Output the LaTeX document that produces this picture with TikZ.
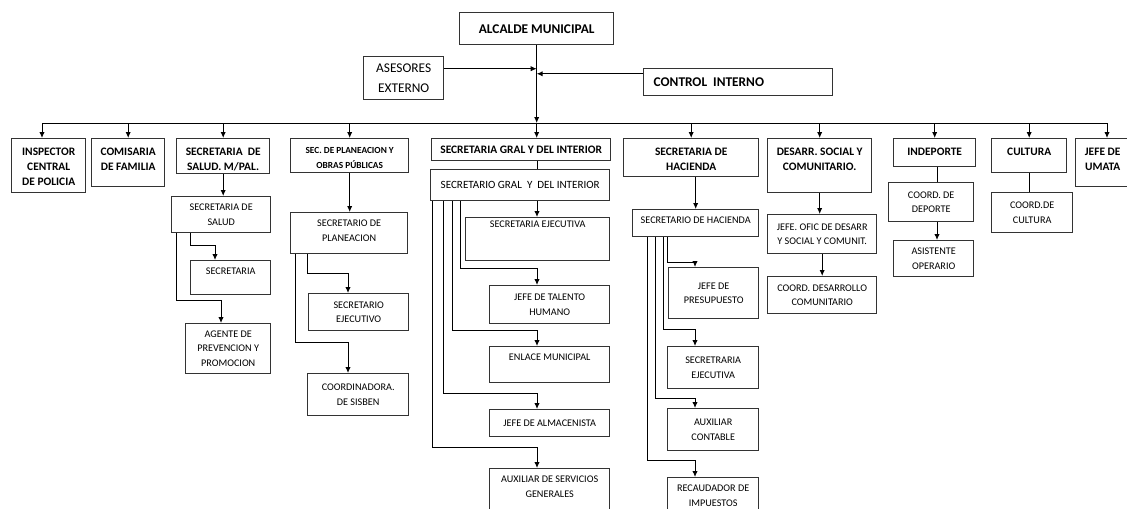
\documentclass[tikz,border=0pt]{standalone}
\usepackage{fontspec}
\setmainfont{Carlito}
\usepackage{tikz}
\usetikzlibrary{arrows.meta}

\newlength{\px}
\setlength{\px}{0.02cm}
\newlength{\toppad}
\setlength{\toppad}{4pt}
% box contents: [pos]{width}{height}{text}, sizes in px
\newcommand{\cell}[4][t]{\parbox[c][#3\px][#1]{#2\px}{\centering\if t#1\vspace*{\toppad}\fi #4}}

\begin{document}
\begin{tikzpicture}[
  x=0.02cm, y=-0.02cm,
  box/.style={draw=black!80, line width=0.8pt, anchor=north west, inner sep=0pt},
  head/.style={box, font=\fontsize{7.6}{11.3}\selectfont\bfseries},
  dept/.style={box, font=\fontsize{6.5}{8.7}\selectfont\bfseries,
    execute at begin node={\setlength{\toppad}{5.2pt}}},
  unit/.style={box, font=\fontsize{5.8}{8.2}\selectfont,
    execute at begin node={\setlength{\toppad}{4.3pt}}},
  link/.style={line width=0.55pt, -{Latex[length=3.4pt,width=3pt]}},
  plain/.style={line width=0.55pt},
]
  \useasboundingbox (0,0) rectangle (1127,508);

  % Top
  \node[head] (alcalde) at (459,12) {\cell[c]{154}{32}{ALCALDE MUNICIPAL}};
  \node[head, font=\fontsize{7.6}{11.3}\selectfont] (asesores) at (363,56) {\cell[c]{80}{43}{ASESORES\\EXTERNO}};
  \node[head] (control) at (643,68) {\parbox[c][27\px][c]{189\px}{\hspace*{10\px}CONTROL\ \ INTERNO}};

  % Departments
  \node[dept] (inspector) at (11,138) {\cell{74}{54}{INSPECTOR\\CENTRAL\\DE POLICIA}};
  \node[dept] (comisaria) at (91,138) {\cell{73}{48}{COMISARIA\\DE FAMILIA}};
  \node[dept] (saludmp) at (176,138) {\cell{93}{35}{SECRETARIA\ \ DE\\SALUD. M/PAL.}};
  \node[dept, font=\fontsize{5.3}{8}\selectfont\bfseries] (planeacion) at (290,138) {\cell{118}{34}{SEC. DE PLANEACION Y\\OBRAS PÚBLICAS}};
  \node[dept] (gral) at (431,138) {\cell[c]{179}{22}{SECRETARIA GRAL Y DEL INTERIOR}};
  \node[dept] (hacienda) at (623,138) {\cell{135}{38}{SECRETARIA DE\\HACIENDA}};
  \node[dept] (desarr) at (767,138) {\cell{104}{54}{DESARR. SOCIAL Y\\COMUNITARIO.}};
  \node[dept] (indeporte) at (893,138) {\cell{82}{28}{INDEPORTE}};
  \node[dept] (cultura) at (991,138) {\cell{75}{34}{CULTURA}};
  \node[dept] (umata) at (1075,138) {\cell{54}{48}{JEFE DE\\UMATA}};

  % Salud and planeacion
  \node[unit] (secsalud) at (171,196) {\cell[c]{99}{36}{SECRETARIA DE\\SALUD}};
  \node[unit] (secretaria) at (190,260) {\cell{80}{34}{SECRETARIA}};
  \node[unit] (agente) at (185,323) {\cell[c]{85}{50}{AGENTE DE\\PREVENCION Y\\PROMOCION}};
  \node[unit] (secplan) at (290,212) {\cell{117}{41}{SECRETARIO DE\\PLANEACION}};
  \node[unit] (secejec) at (308,293) {\cell[c]{100}{37}{SECRETARIO\\EJECUTIVO}};
  \node[unit] (sisben) at (307,373) {\cell[c]{101}{42}{COORDINADORA.\\DE SISBEN}};

  % Secretaria general
  \node[unit, font=\fontsize{6.3}{8.6}\selectfont] (secgral) at (430,169) {\cell[c]{179}{31}{SECRETARIO GRAL\ \ Y\ \ DEL INTERIOR}};
  \node[unit, execute at begin node={\setlength{\toppad}{2pt}}] (secejecutiva) at (465,217) {\cell{144}{43}{SECRETARIA EJECUTIVA}};
  \node[unit] (talento) at (489,285) {\cell[c]{120}{38}{JEFE DE TALENTO\\HUMANO}};
  \node[unit] (enlace) at (489,346) {\cell{120}{36}{ENLACE MUNICIPAL}};
  \node[unit] (almacen) at (489,409) {\cell[c]{120}{27}{JEFE DE ALMACENISTA}};
  \node[unit] (auxserv) at (489,468) {\cell{120}{50}{AUXILIAR DE SERVICIOS\\GENERALES}};

  % Hacienda
  \node[unit] (sechac) at (632,209) {\cell{126}{27}{SECRETARIO DE HACIENDA}};
  \node[unit] (presup) at (668,267) {\cell[c]{90}{51}{JEFE DE\\PRESUPUESTO}};
  \node[unit] (secretraria) at (667,346) {\cell[c]{91}{42}{SECRETRARIA\\EJECUTIVA}};
  \node[unit] (auxiliar) at (667,408) {\cell[c]{91}{42}{AUXILIAR\\CONTABLE}};
  \node[unit] (recaudador) at (667,477) {\cell{91}{40}{RECAUDADOR DE\\IMPUESTOS}};

  % Desarrollo, deporte, cultura
  \node[unit] (jefeofic) at (767,214) {\cell[c]{109}{39}{JEFE. OFIC DE DESARR\\Y SOCIAL Y COMUNIT.}};
  \node[unit] (coorddes) at (767,276) {\cell[c]{109}{37}{COORD. DESARROLLO\\COMUNITARIO}};
  \node[unit] (coorddep) at (888,182) {\cell[c]{85}{39}{COORD. DE\\DEPORTE}};
  \node[unit] (asistente) at (893,240) {\cell[c]{80}{36}{ASISTENTE\\OPERARIO}};
  \node[unit] (coordcul) at (991,192) {\cell[c]{81}{40}{COORD.DE\\CULTURA}};

  % Spine and bus
  \coordinate (busL) at (42,123);
  \coordinate (busR) at (1107,123);
  \coordinate (adv) at ([yshift=5.4pt]asesores.east);
  \coordinate (ctl) at ([yshift=4.8pt]control.west);
  \draw[link] (alcalde.south) -- (alcalde.south |- busL);
  \draw[link] (adv) -- (adv -| alcalde.south);
  \draw[link] (ctl) -- (ctl -| alcalde.south);
  \draw[plain] (busL) -- (busR);
  \draw[link] (busL) -- (busL |- inspector.north);
  \draw[link] (busR) -- (busR |- umata.north);
  \draw[link] (alcalde.south |- busL) -- (alcalde.south |- gral.north);
  \foreach \dept in {comisaria, saludmp, planeacion, hacienda, desarr, indeporte, cultura}
    \draw[link] (\dept.north |- busL) -- (\dept.north);

  % Straight links
  \draw[link] (saludmp.south) -- (saludmp.south |- secsalud.north);
  \draw[link] (planeacion.south) -- (planeacion.south |- secplan.north);
  \draw[plain] (gral.south -| 537,0) -- (secgral.north -| 537,0);
  \draw[link] (secgral.south -| 537,0) -- (secejecutiva.north -| 537,0);
  \draw[link] (hacienda.south -| sechac.north) -- (sechac.north);
  \draw[link] (desarr.south) -- (desarr.south |- jefeofic.north);
  \draw[link] (jefeofic.south) -- (coorddes.north);
  \draw[plain] (indeporte.south -| 937,0) -- (coorddep.north -| 937,0);
  \draw[link] (coorddep.south -| 937,0) -- (asistente.north -| 937,0);
  \draw[plain] (cultura.south) -- (cultura.south |- coordcul.north);

  % Elbow links
  \foreach \from/\xa/\ya/\xb/\to in {
      secsalud/190/245/215/secretaria, secsalud/176/300/221/agente,
      secplan/307/273/348/secejec, secplan/295/342/348/sisben,
      secgral/460/268/537/talento, secgral/452/330/537/enlace,
      secgral/443/393/537/almacen, secgral/432/447/537/auxserv,
      sechac/667/262/695/presup, sechac/663/329/695/secretraria,
      sechac/655/398/695/auxiliar, sechac/647/460/695/recaudador}
    \draw[link] (\from.south -| \xa,0) |- (\xb,\ya) -- (\to.north -| \xb,0);
\end{tikzpicture}
\end{document}
